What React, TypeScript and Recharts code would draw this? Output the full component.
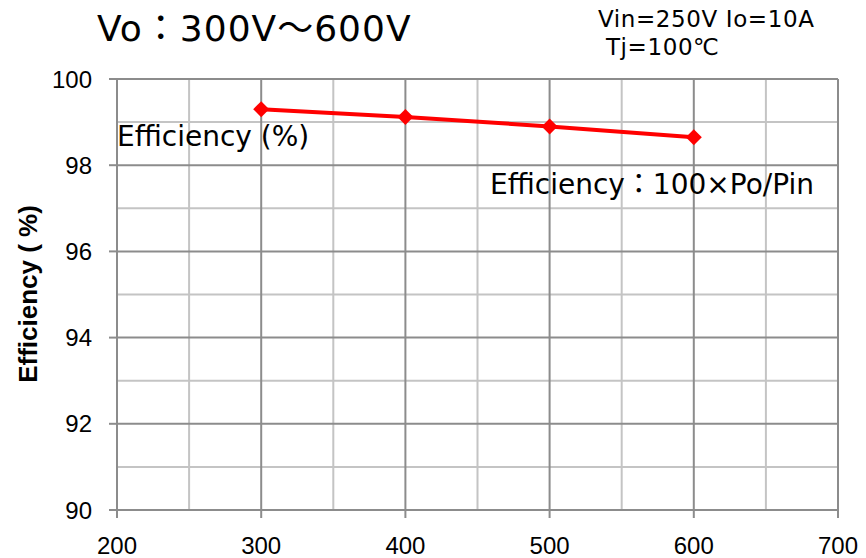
import {
	LineChart,
	Line,
	XAxis,
	YAxis,
	CartesianGrid,
} from "recharts";

const voltages = [300, 400, 500, 600];
const efficiency = [99.3, 99.12, 98.9, 98.65];

const xTicks = [200, 300, 400, 500, 600, 700];
const yTicks = [90, 92, 94, 96, 98, 100];
const xMinor = [250, 350, 450, 550, 650];
const yMinor = [91, 93, 95, 97, 99];

const data = voltages.map((v, i) => ({ vo: v, eff: efficiency[i] }));

const Diamond = (props: any) => {
	const { cx, cy } = props;
	if (cx == null || cy == null) return null;
	const r = 8;
	return (
		<polygon
			points={`${cx},${cy - r} ${cx + r},${cy} ${cx},${cy + r} ${cx - r},${cy}`}
			fill="#ff0000"
		/>
	);
};

const tickStyle = { fontSize: 24, fill: "#000", fontFamily: "Liberation Sans, Arial" };
const jpFont = "DejaVu Sans, Noto Sans CJK JP, sans-serif";

const App = () => {
	return (
		<div style={{ position: "absolute", left: 0, top: 0, width: 866, height: 558, background: "#fff" }}>
			<LineChart
				width={866}
				height={558}
				data={data}
				margin={{ top: 79, right: 28, bottom: 0, left: 0 }}
			>
				<CartesianGrid
					stroke="#c4c4c4"
					strokeWidth={2}
					horizontalValues={yMinor}
					verticalValues={xMinor}
				/>
				<CartesianGrid
					stroke="#8c8c8c"
					strokeWidth={2}
					horizontalValues={yTicks}
					verticalValues={xTicks}
				/>
				<XAxis
					dataKey="vo"
					type="number"
					domain={[200, 700]}
					ticks={xTicks}
					height={48}
					tick={tickStyle}
					tickSize={8}
					tickMargin={19}
					axisLine={{ stroke: "#8c8c8c", strokeWidth: 2 }}
					tickLine={{ stroke: "#8c8c8c", strokeWidth: 2 }}
				/>
				<YAxis
					type="number"
					domain={[90, 100]}
					ticks={yTicks}
					width={117}
					tick={tickStyle}
					tickSize={8}
					tickMargin={17}
					axisLine={{ stroke: "#8c8c8c", strokeWidth: 2 }}
					tickLine={{ stroke: "#8c8c8c", strokeWidth: 2 }}
				/>
				<Line
					dataKey="eff"
					stroke="#ff0000"
					strokeWidth={4}
					dot={<Diamond />}
					activeDot={false}
					isAnimationActive={false}
				/>
			</LineChart>

			<div style={{ position: "absolute", left: 97, top: 7, fontSize: 36, lineHeight: "43px", letterSpacing: 1, fontFamily: jpFont, color: "#000", whiteSpace: "nowrap" }}>
				Vo：300V～600V
			</div>
			<div style={{ position: "absolute", left: 598, top: 5, fontSize: 23, fontFamily: jpFont, color: "#000", lineHeight: "28px", letterSpacing: 0.6, whiteSpace: "nowrap" }}>
				Vin=250V Io=10A
				<br />
				&nbsp;Tj=100℃
			</div>
			<div style={{ position: "absolute", left: 117, top: 120, fontSize: 28, lineHeight: "34px", fontFamily: jpFont, color: "#000", whiteSpace: "nowrap" }}>
				Efficiency (%)
			</div>
			<div style={{ position: "absolute", left: 490, top: 168, fontSize: 28, lineHeight: "34px", fontFamily: jpFont, color: "#000", whiteSpace: "nowrap" }}>
				Efficiency：100×Po/Pin
			</div>
			<div
				style={{
					position: "absolute",
					left: 28,
					top: 294,
					transform: "translate(-50%, -50%) rotate(-90deg)",
					fontSize: 26,
					fontWeight: "bold",
					fontFamily: "Liberation Sans, Arial",
					color: "#000",
					whiteSpace: "nowrap",
				}}
			>
				Efficiency ( %)
			</div>
		</div>
	);
};

export default App;
